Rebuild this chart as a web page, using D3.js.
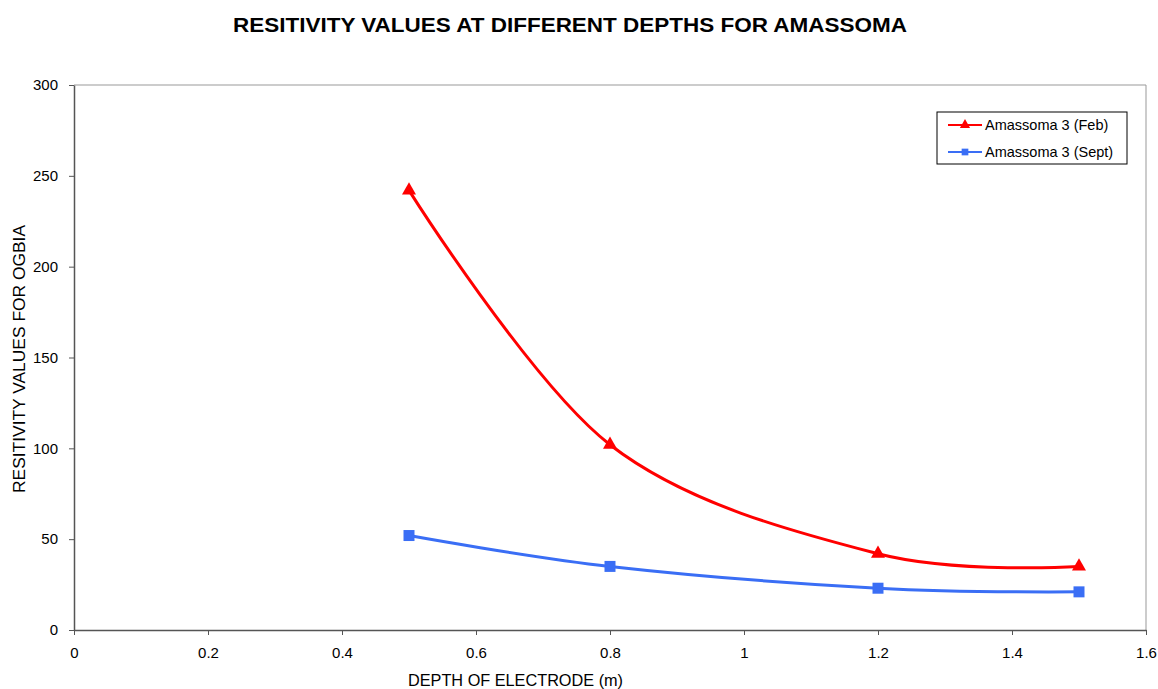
<!DOCTYPE html>
<html>
<head>
<meta charset="utf-8">
<script src="https://cdn.jsdelivr.net/npm/d3@7"></script>
<style>
  body { margin: 0; background: #fff; }
  svg { font-family: "Liberation Sans", Arial, sans-serif; }
  .axis path, .axis line { stroke: #555; }
</style>
</head>
<body>
<div class="contents"></div>
<script>
// depth of electrode (m)
var depths = [0.5, 0.8, 1.2, 1.5];
var febValues = [242, 102, 42, 35];
var septValues = [52, 35, 23, 21];
var seriesNames = ["Amassoma 3 (Feb)", "Amassoma 3 (Sept)"];
var xTicks = [0, 0.2, 0.4, 0.6, 0.8, 1, 1.2, 1.4, 1.6];
var yTicks = [0, 50, 100, 150, 200, 250, 300];

var svgWidth = 1158, svgHeight = 689;
var margin = { top: 85, right: 12, bottom: 59, left: 74 };
var width = svgWidth - margin.left - margin.right,
    height = svgHeight - margin.top - margin.bottom;

var svg = d3.select(".contents").append("svg")
    .attr("width", svgWidth)
    .attr("height", svgHeight);

svg.append("text")
    .attr("x", 233)
    .attr("y", 32)
    .attr("textLength", 674)
    .attr("lengthAdjust", "spacingAndGlyphs")
    .style("font-size", "20px")
    .style("font-weight", "bold")
    .text("RESITIVITY VALUES AT DIFFERENT DEPTHS FOR AMASSOMA");

var g = svg.append("g")
    .attr("transform", "translate(" + margin.left + "," + margin.top + ")");

var x = d3.scaleLinear().domain([0, 1.6]).range([0, width]);
var y = d3.scaleLinear().domain([0, 300]).range([height, 0]);

// plot frame (top + right)
g.append("path")
    .attr("d", "M0,0H" + width + "V" + height)
    .attr("fill", "none")
    .attr("stroke", "#999")
    .attr("stroke-width", 1);

function styleAxis(a) {
    a.attr("font-family", null).attr("font-size", null);
    a.select(".domain").attr("stroke-width", 1.5);
    a.selectAll("text").style("font-size", "15px").attr("fill", "#000");
}

g.append("g")
    .attr("class", "x axis")
    .attr("transform", "translate(0," + height + ")")
    .call(d3.axisBottom(x).tickValues(xTicks).tickSize(5).tickSizeOuter(0).tickPadding(12)
          .tickFormat(function(d) { return String(d); }))
    .call(styleAxis);

g.append("g")
    .attr("class", "y axis")
    .call(d3.axisLeft(y).tickValues(yTicks).tickSize(5).tickSizeOuter(0).tickPadding(11))
    .call(styleAxis);

svg.append("text")
    .attr("x", 408)
    .attr("y", 686)
    .attr("textLength", 215)
    .attr("lengthAdjust", "spacingAndGlyphs")
    .style("font-size", "16px")
    .text("DEPTH OF ELECTRODE (m)");

svg.append("text")
    .attr("transform", "translate(25,493) rotate(-90)")
    .attr("textLength", 268)
    .attr("lengthAdjust", "spacingAndGlyphs")
    .style("font-size", "16px")
    .text("RESITIVITY VALUES FOR OGBIA");

var series = [
    { name: seriesNames[0], values: febValues, color: "#ff0000", symbol: d3.symbolTriangle, size: 85 },
    { name: seriesNames[1], values: septValues, color: "#3a6ef5", symbol: d3.symbolSquare, size: 121 }
];

var line = d3.line()
    .x(function(d) { return x(d[0]); })
    .y(function(d) { return y(d[1]); })
    .curve(d3.curveCardinal.tension(0));

series.forEach(function(s) {
    var pts = depths.map(function(d, i) { return [d, s.values[i]]; });
    g.append("path")
        .datum(pts)
        .attr("fill", "none")
        .attr("stroke", s.color)
        .attr("stroke-width", 3)
        .attr("d", line);
    g.selectAll(null)
        .data(pts)
        .enter().append("path")
        .attr("transform", function(d) { return "translate(" + x(d[0]) + "," + y(d[1]) + ")"; })
        .attr("d", d3.symbol().type(s.symbol).size(s.size))
        .attr("fill", s.color);
});

// Legend
var legend = svg.append("g").attr("transform", "translate(937,112)");
legend.append("rect")
    .attr("width", 190)
    .attr("height", 52)
    .attr("fill", "#fff")
    .attr("stroke", "#000")
    .attr("stroke-width", 1);

series.forEach(function(s, i) {
    var row = legend.append("g").attr("transform", "translate(0," + (13 + i * 27) + ")");
    row.append("line")
        .attr("x1", 11).attr("x2", 45)
        .attr("stroke", s.color)
        .attr("stroke-width", 2);
    row.append("path")
        .attr("transform", "translate(28,0)")
        .attr("d", d3.symbol().type(s.symbol).size(45))
        .attr("fill", s.color);
    row.append("text")
        .attr("x", 48)
        .attr("dy", "0.35em")
        .style("font-size", "14.5px")
        .text(s.name);
});
</script>
</body>
</html>
